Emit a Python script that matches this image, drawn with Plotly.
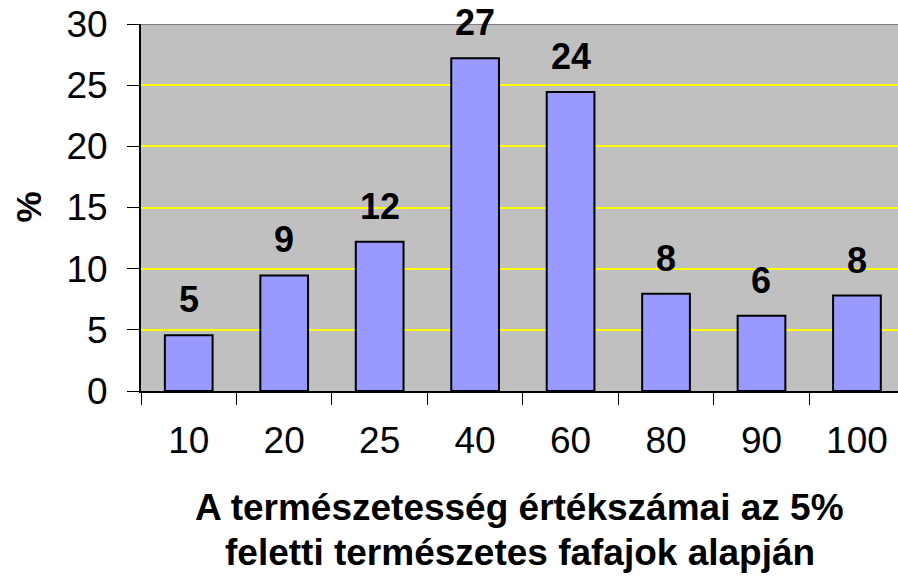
import plotly.graph_objects as go

categories = ["10", "20", "25", "40", "60", "80", "90", "100"]
values = [4.55, 9.45, 12.2, 27.2, 24.45, 7.95, 6.15, 7.8]
labels = ["5", "9", "12", "27", "24", "8", "6", "8"]
y_ticks = [0, 5, 10, 15, 20, 25, 30]

FONT = "Arial, Liberation Sans, sans-serif"

fig = go.Figure()
fig.add_trace(go.Bar(
    x=categories, y=values, width=0.5,
    marker=dict(color="#9999FF", line=dict(color="black", width=2)),
    hoverinfo="skip",
))

for i, (v, t) in enumerate(zip(values, labels)):
    fig.add_annotation(x=i, y=v, xref="x", yref="y", text="<b>%s</b>" % t,
                       showarrow=False, yanchor="bottom", yshift=13,
                       font=dict(family=FONT, size=36, color="black"))

# top border of plot area
fig.add_shape(type="line", xref="paper", yref="y", x0=0, x1=1, y0=30, y1=30,
              line=dict(color="#808080", width=2))

fig.add_annotation(xref="paper", yref="paper", x=0.5, y=0, yanchor="top", yshift=-94,
                   text="<b>A természetesség értékszámai az 5%</b>",
                   showarrow=False, align="center",
                   font=dict(family=FONT, size=37, color="black"))
fig.add_annotation(xref="paper", yref="paper", x=0.5, y=0, yanchor="top", yshift=-139,
                   text="<b>feletti természetes fafajok alapján</b>",
                   showarrow=False, align="center",
                   font=dict(family=FONT, size=37, color="black"))
fig.add_annotation(xref="paper", yref="paper", x=0, y=0.5, xanchor="center", xshift=-113,
                   text="<b>%</b>", textangle=-90, showarrow=False,
                   font=dict(family=FONT, size=35, color="black"))

fig.update_layout(
    width=898, height=577,
    margin=dict(l=141, r=0, t=24, b=186),
    paper_bgcolor="white", plot_bgcolor="#C0C0C0",
    showlegend=False, bargap=0.5,
    font=dict(family=FONT, color="black"),
    xaxis=dict(type="category", range=[-0.5, 7.43], tickson="boundaries",
               ticks="outside", ticklen=12, tickwidth=1, tickcolor="black",
               showline=True, linecolor="black", linewidth=2,
               showgrid=False, tickfont=dict(size=37, family=FONT),
               ticklabelstandoff=16, automargin=False),
    yaxis=dict(range=[0, 30], tickvals=y_ticks, ticks="outside", ticklen=12,
               tickwidth=1, tickcolor="black",
               showline=True, linecolor="black", linewidth=2,
               showgrid=True, gridcolor="#FFFF00", gridwidth=1.5,
               zeroline=False, tickfont=dict(size=37, family=FONT),
               ticklabelstandoff=12, automargin=False),
)

fig.write_html("out.html", config={"displayModeBar": False},
               post_script="document.body.style.margin='0px';document.body.style.overflow='hidden';")
